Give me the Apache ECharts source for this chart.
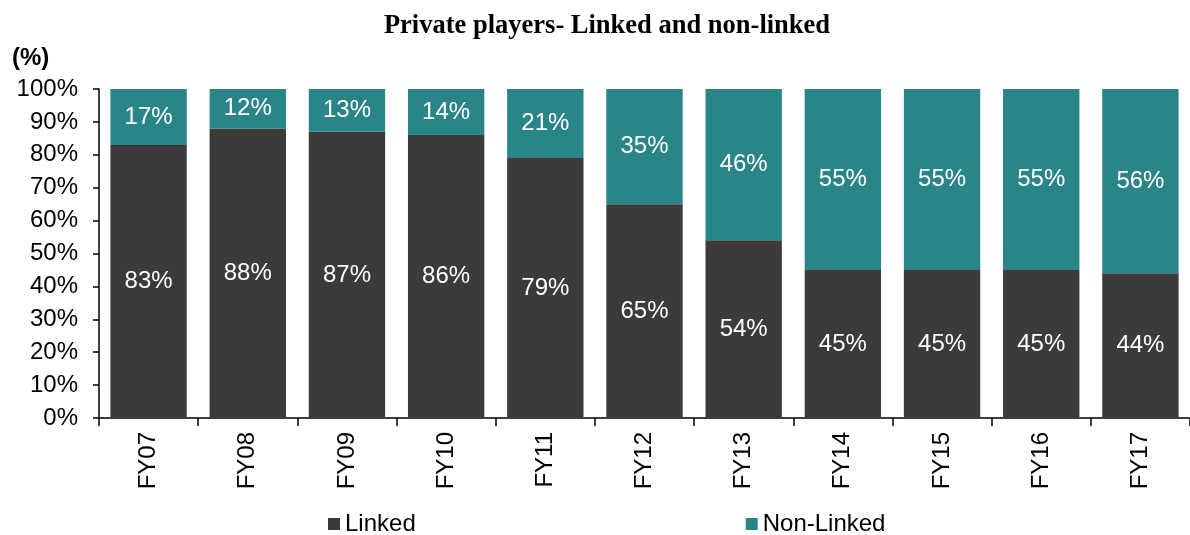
<!DOCTYPE html>
<html>
<head>
<meta charset="utf-8">
<script src="https://cdn.jsdelivr.net/npm/echarts@6/dist/echarts.min.js"></script>
<style>
  html, body { margin: 0; padding: 0; background: #fff; }
  #chart { width: 1190px; height: 535px; }
</style>
</head>
<body>
<div id="chart"></div>
<script>
// categories and values
const years = ["FY07", "FY08", "FY09", "FY10", "FY11", "FY12", "FY13", "FY14", "FY15", "FY16", "FY17"];
const linked = [83, 88, 87, 86, 79, 65, 54, 45, 45, 45, 44];
const nonLinked = [17, 12, 13, 14, 21, 35, 46, 55, 55, 55, 56];

const chart = echarts.init(document.getElementById("chart"));

const font = "Liberation Sans, Arial, sans-serif";

const barLabel = {
  show: true,
  position: "inside",
  color: "#fff",
  fontSize: 24,
  fontFamily: font,
  formatter: "{c}%",
};

const option = {
  animation: false,
  title: [
    {
      text: "Private players- Linked and non-linked",
      left: 602,
      top: 8,
      textAlign: "center",
      textStyle: { fontFamily: "Liberation Serif, Times New Roman, serif", fontWeight: "bold", fontSize: 26.5, color: "#000" },
    },
    {
      text: "(%)",
      left: 7,
      top: 41,
      textStyle: { fontFamily: font, fontWeight: "bold", fontSize: 24, color: "#000" },
    },
  ],
  legend: {
    left: 323,
    top: 507,
    itemWidth: 12,
    itemHeight: 12,
    itemGap: 330,
    icon: "rect",
    textStyle: { fontFamily: font, fontSize: 24, color: "#000" },
    data: ["Linked", "Non-Linked"],
  },
  grid: { left: 99, right: 0, top: 89, bottom: 117 },
  xAxis: {
    type: "category",
    data: years,
    axisLine: { lineStyle: { color: "#000", width: 1.5 } },
    axisTick: { show: true, length: 8, lineStyle: { color: "#000", width: 1.5 } },
    axisLabel: { rotate: 90, fontFamily: font, fontSize: 24, color: "#000", margin: 14 },
  },
  yAxis: {
    type: "value",
    min: 0,
    max: 100,
    interval: 10,
    splitLine: { show: false },
    axisLine: { show: true, lineStyle: { color: "#000", width: 1.5 } },
    axisTick: { show: true, length: 6, lineStyle: { color: "#000", width: 1.5 } },
    axisLabel: { formatter: "{value}%", fontFamily: font, fontSize: 24, color: "#000", margin: 21 },
  },
  series: [
    {
      name: "Linked",
      type: "bar",
      stack: "total",
      data: linked,
      barWidth: "77%",
      itemStyle: { color: "#3c3b39" },
      label: barLabel,
    },
    {
      name: "Non-Linked",
      type: "bar",
      stack: "total",
      data: nonLinked,
      itemStyle: { color: "#2a8589" },
      label: barLabel,
    },
  ],
};

chart.setOption(option);
</script>
</body>
</html>
